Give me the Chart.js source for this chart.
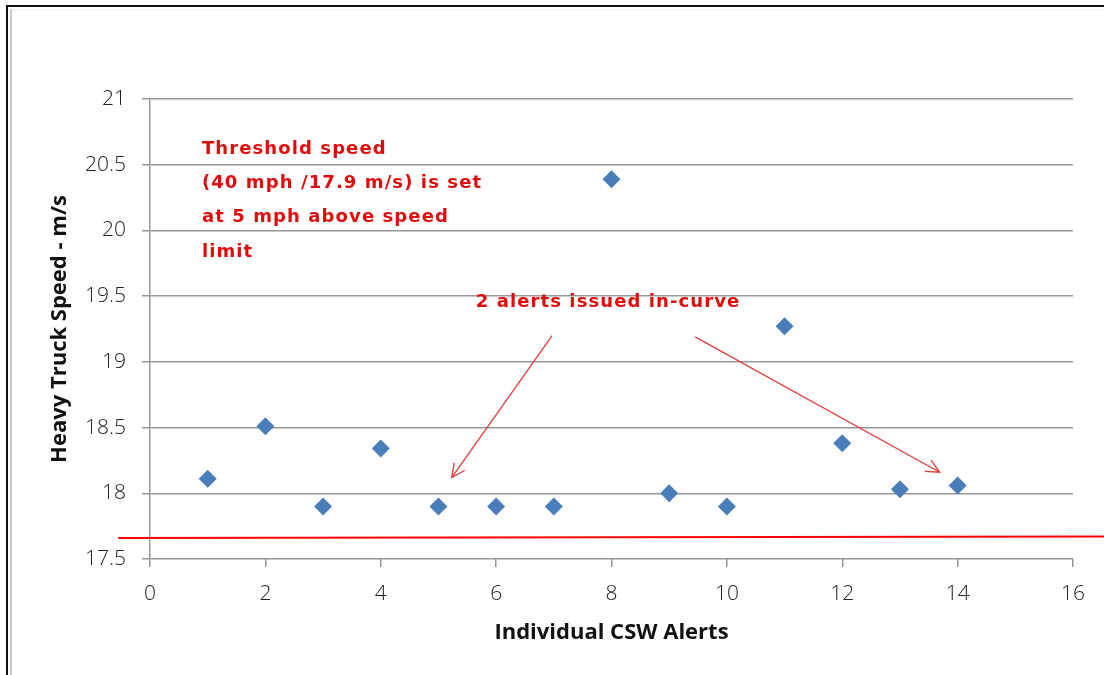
<!DOCTYPE html>
<html>
<head>
<meta charset="utf-8">
<title>Heavy truck speed at CSW alerts</title>
<script src="https://cdn.jsdelivr.net/npm/chart.js@4.4.1/dist/chart.umd.min.js"></script>
<style>
  html, body { margin: 0; padding: 0; background: #fff; }
  #wrap { position: relative; width: 1104px; height: 675px; overflow: hidden; }
  #frameDark { position: absolute; left: 6px; top: 5px; right: -10px; bottom: -10px;
    border-left: 2px solid #111; border-top: 2px solid #111; }
  #frameLight { position: absolute; left: 10px; top: 9px; right: -10px; bottom: -10px;
    border-left: 2px solid #c8c8c8; border-top: 1px solid #eeeeee; }
  #chartBox { position: absolute; left: 0; top: 0; width: 1104px; height: 675px; }
</style>
</head>
<body>
<div id="wrap">
  <div id="frameDark"></div>
  <div id="frameLight"></div>
  <div id="chartBox"><canvas id="speedChart"></canvas></div>
</div>
<script>
// alert number vs heavy truck speed (m/s)
const alertNumbers = [1, 2, 3, 4, 5, 6, 7, 8, 9, 10, 11, 12, 13, 14];
const truckSpeeds = [18.11, 18.51, 17.9, 18.34, 17.9, 17.9, 17.9, 20.39, 18.0, 17.9, 19.27, 18.38, 18.03, 18.06];

const xTickValues = [0, 2, 4, 6, 8, 10, 12, 14, 16];
const yTickValues = [17.5, 18, 18.5, 19, 19.5, 20, 20.5, 21];

// threshold line (runs past the plot on both sides)
const thresholdX = [-0.55, 16.54];
const thresholdY = [17.66, 17.672];

// annotation arrows in data units
const arrowFromX = [6.97, 9.45];
const arrowFromY = [19.2, 19.19];
const arrowToX = [5.23, 13.69];
const arrowToY = [18.12, 18.16];

const thresholdNote = [
  "Threshold speed",
  "(40 mph /17.9 m/s) is set",
  "at 5 mph above speed",
  "limit"
];
const thresholdNoteAt = [0.9, 20.62];
const inCurveNote = "2 alerts issued in-curve";
const inCurveNoteAt = [7.94, 19.456];

const redText = "#e00c0c";
const arrowRed = "#e23b3b";
const gridGray = "#989898";

const annotationPlugin = {
  id: "annotations",
  afterDatasetsDraw(chart) {
    const ctx = chart.ctx;
    const xs = chart.scales.x;
    const ys = chart.scales.y;

    ctx.save();
    ctx.fillStyle = redText;
    ctx.font = "bold 18px 'DejaVu Sans'";
    ctx.letterSpacing = "1.1px";
    ctx.textBaseline = "middle";
    ctx.textAlign = "left";
    const noteX = xs.getPixelForValue(thresholdNoteAt[0]);
    const noteY = ys.getPixelForValue(thresholdNoteAt[1]);
    thresholdNote.forEach((line, i) => {
      ctx.fillText(line, noteX, noteY + i * 34.4);
    });

    ctx.textAlign = "center";
    ctx.fillText(inCurveNote, xs.getPixelForValue(inCurveNoteAt[0]), ys.getPixelForValue(inCurveNoteAt[1]));

    ctx.strokeStyle = arrowRed;
    ctx.lineWidth = 1.3;
    arrowFromX.forEach((fx, i) => {
      const x1 = xs.getPixelForValue(fx);
      const y1 = ys.getPixelForValue(arrowFromY[i]);
      const x2 = xs.getPixelForValue(arrowToX[i]);
      const y2 = ys.getPixelForValue(arrowToY[i]);
      const angle = Math.atan2(y2 - y1, x2 - x1);
      const head = 15;
      ctx.beginPath();
      ctx.moveTo(x1, y1);
      ctx.lineTo(x2, y2);
      ctx.moveTo(x2 - head * Math.cos(angle - 0.45), y2 - head * Math.sin(angle - 0.45));
      ctx.lineTo(x2, y2);
      ctx.lineTo(x2 - head * Math.cos(angle + 0.45), y2 - head * Math.sin(angle + 0.45));
      ctx.stroke();
    });
    ctx.restore();
  }
};

const speedPoints = alertNumbers.map((n, i) => ({ x: n, y: truckSpeeds[i] }));
const thresholdPoints = thresholdX.map((x, i) => ({ x: x, y: thresholdY[i] }));

new Chart(document.getElementById("speedChart"), {
  type: "scatter",
  data: {
    datasets: [
      {
        label: "Heavy truck speed",
        data: speedPoints,
        pointStyle: "rectRot",
        pointRadius: 9,
        pointBackgroundColor: "#4a7ebb",
        pointBorderColor: "#4a7ebb",
        pointBorderWidth: 0,
        order: 1
      },
      {
        label: "Threshold",
        type: "line",
        data: thresholdPoints,
        borderColor: "#ff0000",
        borderWidth: 2,
        pointRadius: 0,
        clip: false,
        order: 2
      }
    ]
  },
  options: {
    responsive: true,
    maintainAspectRatio: false,
    animation: false,
    layout: { padding: { left: 0, top: 99, right: 31, bottom: 0 } },
    plugins: {
      legend: { display: false },
      tooltip: { enabled: false }
    },
    scales: {
      x: {
        type: "linear",
        min: 0,
        max: 16,
        afterFit: (scale) => { scale.height = 116; },
        afterBuildTicks: (scale) => { scale.ticks = xTickValues.map((v) => ({ value: v })); },
        grid: { drawOnChartArea: false, drawTicks: true, tickLength: 8, color: gridGray, lineWidth: 1.5 },
        border: { display: false },
        ticks: { padding: 14, color: "#222", font: { family: "'Open Sans'", size: 21, weight: 300 } },
        title: {
          display: true,
          text: "Individual CSW Alerts",
          color: "#111",
          font: { family: "'Open Sans'", size: 22, weight: "bold" },
          padding: { top: 0, bottom: 29 }
        }
      },
      y: {
        type: "linear",
        min: 17.5,
        max: 21,
        afterFit: (scale) => { scale.width = 150; },
        afterBuildTicks: (scale) => { scale.ticks = yTickValues.map((v) => ({ value: v })); },
        grid: { drawTicks: true, tickLength: 8, color: gridGray, lineWidth: 1.5 },
        border: { display: true, color: gridGray, width: 1.5 },
        ticks: {
          padding: 16,
          color: "#222",
          font: { family: "'Open Sans'", size: 21, weight: 300 },
          callback: (value) => String(value)
        },
        title: {
          display: true,
          text: "Heavy Truck Speed - m/s",
          color: "#111",
          font: { family: "'Open Sans'", size: 22, weight: "bold" },
          padding: { top: 47, bottom: 0 }
        }
      }
    }
  },
  plugins: [annotationPlugin]
});
</script>
</body>
</html>
